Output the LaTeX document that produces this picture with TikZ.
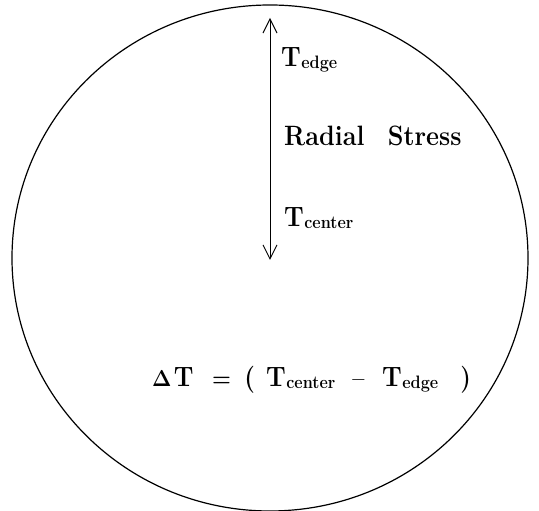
\documentclass[tikz,border=0pt]{standalone}
\usepackage{tikz}
\usetikzlibrary{arrows.meta}
\newcommand{\bigfont}{\fontsize{28}{32}\selectfont\bfseries}
\newcommand{\subfont}{\fontsize{18}{20}\selectfont\bfseries}
\newcommand{\Tsub}[1]{T\kern0.5pt\raisebox{-2pt}{\subfont #1}}
\newcommand{\narrow}[1]{\scalebox{0.9}[1]{#1}}
\newcommand{\eqslot}[2]{\makebox[#1][l]{#2}}
\begin{document}
\begin{tikzpicture}[x=1pt,y=1pt,
  every node/.style={inner sep=0pt,font=\bigfont},
  lbl/.style={anchor=base west},
  arr/.style={{Straight Barb[length=14pt,width=14pt]}-{Straight Barb[length=14pt,width=14pt]},line width=1pt}
]
\useasboundingbox (0,0) rectangle (539,511);
% the disc
\draw[line width=1.2pt] (270,253) ellipse [x radius=258, y radius=253];

% radial arrow
\coordinate (top) at (270,493);
\coordinate (bot) at (270,251);
\draw[arr] (top) -- (bot);

\node[lbl] (tedge) at (281,444) {\narrow{\Tsub{edge}}};
\node[lbl] (radial) at (284,365) {\narrow{Radial\hspace{26pt}Stress}};
\node[lbl] (tcenter) at (284,284) {\narrow{\Tsub{center}}};

% difference
\node[lbl] (delta) at (152,124) {\narrow{%
  \eqslot{24pt}{\fontsize{23}{24}\selectfont Δ}%
  \eqslot{42.7pt}{T}%
  \eqslot{35.6pt}{\fontsize{24}{26}\selectfont=}%
  \eqslot{24.4pt}{\fontsize{27}{28}\selectfont(}%
  \eqslot{95.6pt}{\Tsub{center}}%
  \eqslot{33.3pt}{\fontsize{24}{26}\selectfont--}%
  \eqslot{86.7pt}{\Tsub{edge}}%
  {\fontsize{27}{28}\selectfont)}}};
\end{tikzpicture}
\end{document}
